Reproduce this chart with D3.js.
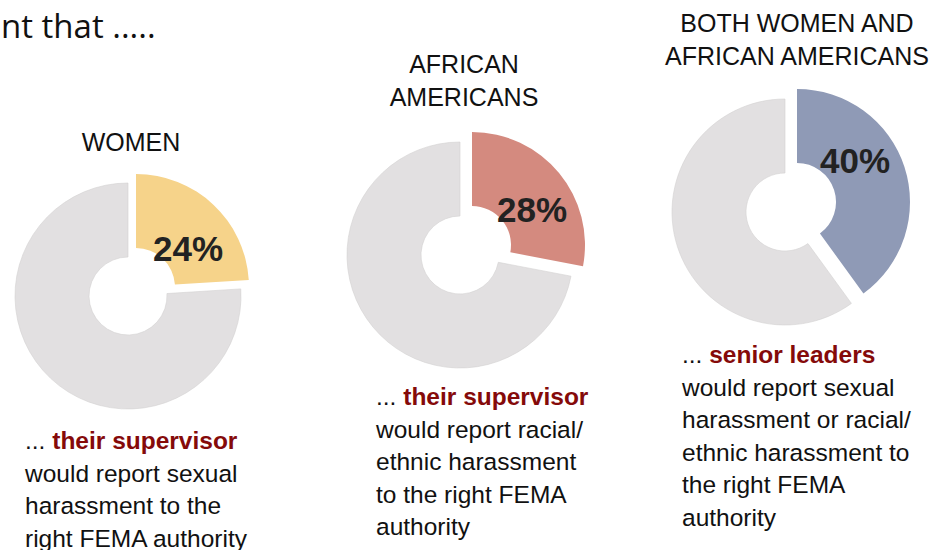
<!DOCTYPE html>
<html>
<head>
<meta charset="utf-8">
<script src="https://cdn.jsdelivr.net/npm/d3@7"></script>
<style>
  html, body { margin: 0; padding: 0; background: #fff; }
  svg { display: block; }
</style>
</head>
<body>
<div id="chart"></div>
<script>
// ===== Data =====
const titles = [
  ["WOMEN"],
  ["AFRICAN", "AMERICANS"],
  ["BOTH WOMEN AND", "AFRICAN AMERICANS"]
];
const percents = [24, 28, 40];
const reporters = ["their supervisor", "their supervisor", "senior leaders"];
const captions = [
  ["would report sexual", "harassment to the", "right FEMA authority"],
  ["would report racial/", "ethnic harassment", "to the right FEMA", "authority"],
  ["would report sexual", "harassment or racial/", "ethnic harassment to", "the right FEMA", "authority"]
];
const headline = "nt that .....";

// ===== Style / layout =====
const W = 939, H = 550;
const colors = ["#F6D38A", "#D48A7F", "#8F9AB6"];
const restColor = "#E2E0E1";
const R = 113, r = 39;
// donut centres, explode offset of the highlighted slice, label offset
const layout = [
  { cx: 128, cy: 296, ex: 8,  ey: -9,  lx: 52, ly: -39, tx: 131, ty: 151, capX: 25,  capY: 449 },
  { cx: 460, cy: 255, ex: 12, ey: -10, lx: 60, ly: -36, tx: 464, ty: 73,  capX: 376, capY: 405 },
  { cx: 785, cy: 212, ex: 12, ey: -10, lx: 58, ly: -42, tx: 797, ty: 32,  capX: 682, capY: 363 }
];
const lineH = 32.5;
const FONT = "'Liberation Sans', Arial, sans-serif";

const svg = d3.select("#chart").append("svg")
  .attr("width", W).attr("height", H)
  .attr("viewBox", `0 0 ${W} ${H}`);

// headline (cropped in the source)
svg.append("text")
  .attr("x", 1).attr("y", 38)
  .style("font-family", "'Open Sans', sans-serif")
  .style("font-size", "33px")
  .style("fill", "#111")
  .text(headline);

const pie = d3.pie().sort(null).value(d => d);
const arc = d3.arc().innerRadius(r).outerRadius(R);

percents.forEach((p, i) => {
  const L = layout[i];
  const slices = pie([p, 100 - p]);

  const g = svg.append("g").attr("transform", `translate(${L.cx},${L.cy})`);

  // rest of the donut
  g.append("path")
    .attr("d", arc(slices[1]))
    .attr("fill", restColor)
    .attr("stroke", "#d3d1d2")
    .attr("stroke-width", 0.6);

  // exploded slice
  const hg = g.append("g").attr("transform", `translate(${L.ex},${L.ey})`);
  hg.append("path")
    .attr("d", arc(slices[0]))
    .attr("fill", colors[i]);

  hg.append("text")
    .attr("x", L.lx).attr("y", L.ly)
    .attr("text-anchor", "middle")
    .attr("dominant-baseline", "central")
    .style("font-family", FONT)
    .style("font-weight", "bold")
    .style("font-size", "35px")
    .style("fill", "#222")
    .text(p + "%");

  // title
  svg.append("g")
    .selectAll("text")
    .data(titles[i])
    .join("text")
    .attr("x", L.tx)
    .attr("y", (_, k) => L.ty + k * 33)
    .attr("text-anchor", "middle")
    .style("font-family", FONT)
    .style("font-size", "25px")
    .style("fill", "#111")
    .text(d => d);

  // caption
  const cap = svg.append("g")
    .style("font-family", FONT)
    .style("font-size", "24.5px")
    .style("fill", "#111");

  const first = cap.append("text").attr("x", L.capX).attr("y", L.capY);
  first.append("tspan").text("... ");
  first.append("tspan")
    .style("font-weight", "bold")
    .style("fill", "#850A0A")
    .text(reporters[i]);

  cap.selectAll(".line")
    .data(captions[i])
    .join("text")
    .attr("class", "line")
    .attr("x", L.capX)
    .attr("y", (_, k) => L.capY + (k + 1) * lineH)
    .text(d => d);
});
</script>
</body>
</html>
